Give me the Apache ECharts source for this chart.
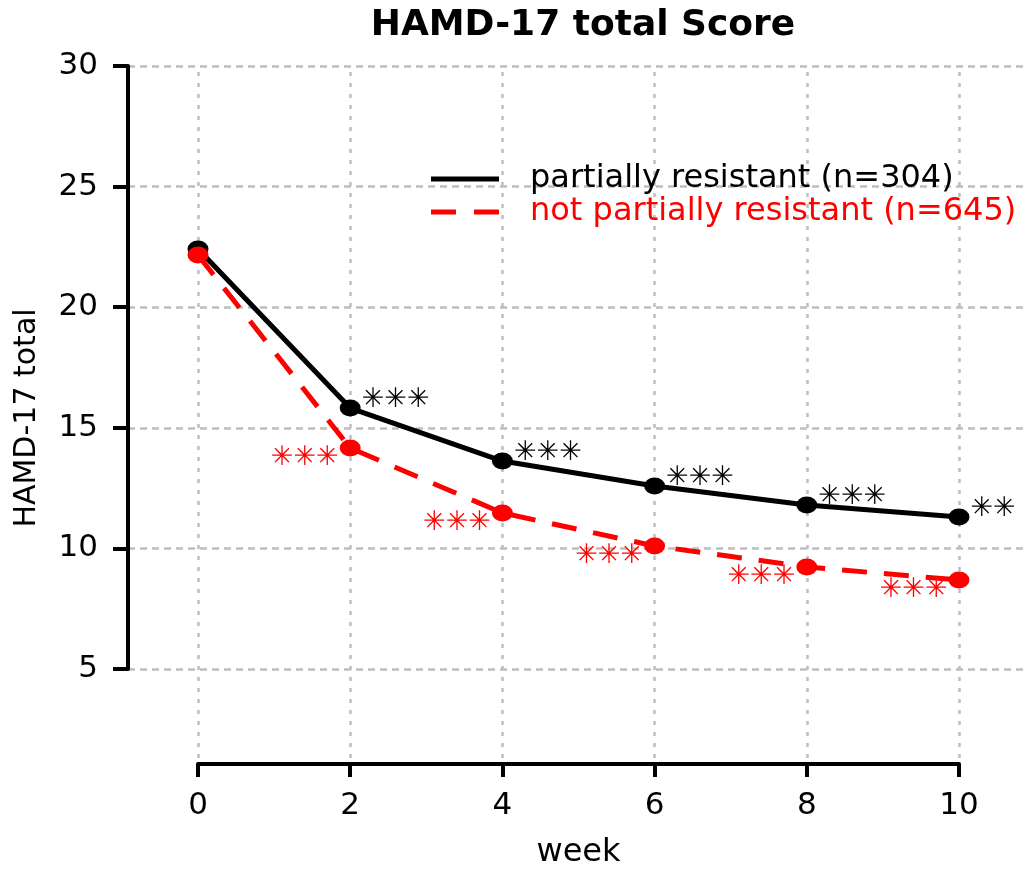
<!DOCTYPE html>
<html>
<head>
<meta charset="utf-8">
<script src="https://cdn.jsdelivr.net/npm/echarts@6/dist/echarts.min.js"></script>
<style>html,body{margin:0;padding:0;background:#fff}#c{width:1032px;height:874px}</style>
</head>
<body>
<div id="c"></div>
<script>
var weeks = [0, 2, 4, 6, 8, 10];
var partiallyResistant = [22.41, 15.82, 13.62, 12.59, 11.80, 11.30];
var notPartiallyResistant = [22.16, 14.16, 11.47, 10.10, 9.23, 8.69];
var sigPartial = ['', '✳✳✳', '✳✳✳', '✳✳✳', '✳✳✳', '✳✳'];
var sigNotPartial = ['', '✳✳✳', '✳✳✳', '✳✳✳', '✳✳✳', '✳✳✳'];
var yTicks = [5, 10, 15, 20, 25, 30];
var xTicks = [0, 2, 4, 6, 8, 10];
var nameA = 'partially resistant (n=304)';
var nameB = 'not partially resistant (n=645)';

function pairs(xs, ys) { return xs.map(function (x, i) { return [x, ys[i]]; }); }

var FONT = 'DejaVu Sans';
var chart = echarts.init(document.getElementById('c'), null, { renderer: 'canvas' });
var option = {
  backgroundColor: '#fff',
  animation: false,
  title: {
    text: 'HAMD-17 total Score',
    left: 578, top: 3, textAlign: 'center',
    textStyle: { fontFamily: FONT, fontWeight: 'bold', fontSize: 36, color: '#000' }
  },
  legend: {
    orient: 'vertical', left: 426, top: 158,
    itemWidth: 68, itemHeight: 5, itemGap: 1,
    data: [
      { name: nameA, icon: 'rect', textStyle: { color: '#000' } },
      { name: nameB, icon: 'path://M0,0h25v5h-25z M43,0h25v5h-25z', textStyle: { color: '#ff0000' } }
    ],
    textStyle: { fontFamily: FONT, fontSize: 32, lineHeight: 32, padding: [0, 0, 0, 26] }
  },
  grid: [
    { left: 198, width: 761, top: 66, height: 603 },
    { left: 128, width: 897, top: 66, height: 603 },
    { left: 198, width: 761, top: 72, height: 698 }
  ],
  xAxis: [
    { gridIndex: 0, type: 'value', min: 0, max: 10, show: false },
    { gridIndex: 1, type: 'value', min: 0, max: 10, show: false },
    {
      gridIndex: 2, type: 'value', min: 0, max: 10, interval: 2, position: 'bottom',
      axisLine: { show: true, lineStyle: { color: '#000', width: 4 } },
      axisTick: { show: true, length: 13, lineStyle: { color: '#000', width: 4 } },
      axisLabel: { fontFamily: FONT, fontSize: 31, color: '#000', margin: 26,
        formatter: function (v) { return xTicks.indexOf(v) >= 0 ? String(v) : ''; } },
      splitLine: { show: true, lineStyle: { color: '#bebebe', width: 2.5, type: [4, 7] } },
      name: 'week', nameLocation: 'middle', nameGap: 73,
      nameTextStyle: { fontFamily: FONT, fontSize: 32, color: '#000' }
    }
  ],
  yAxis: [
    { gridIndex: 0, type: 'value', min: 5, max: 30, show: false },
    {
      gridIndex: 1, type: 'value', min: 5, max: 30, interval: 5, position: 'left',
      axisLine: { show: true, lineStyle: { color: '#000', width: 4 } },
      axisTick: { show: true, length: 15, lineStyle: { color: '#000', width: 4 } },
      axisLabel: { fontFamily: FONT, fontSize: 31, color: '#000', margin: 30,
        formatter: function (v) { return yTicks.indexOf(v) >= 0 ? String(v) : ''; } },
      splitLine: { show: true, lineStyle: { color: '#bebebe', width: 2.5, type: [7, 5] } }
    },
    {
      gridIndex: 2, type: 'value', min: 0, max: 1, position: 'left',
      axisLine: { show: false }, axisTick: { show: false }, axisLabel: { show: false },
      splitLine: { show: false },
      name: 'HAMD-17 total', nameLocation: 'middle', nameGap: 156, nameRotate: 90,
      nameTextStyle: { fontFamily: FONT, fontSize: 30, color: '#000' }
    }
  ],
  series: [
    {
      name: nameA, type: 'line', xAxisIndex: 0, yAxisIndex: 0,
      data: pairs(weeks, partiallyResistant), symbol: 'none',
      lineStyle: { color: '#000', width: 5 }, itemStyle: { color: '#000' }, z: 3
    },
    {
      name: nameB, type: 'line', xAxisIndex: 0, yAxisIndex: 0,
      data: pairs(weeks, notPartiallyResistant), symbol: 'none',
      lineStyle: { color: '#ff0000', width: 5, type: [25, 17] }, itemStyle: { color: '#ff0000' }, z: 3
    },
    {
      name: 'ptsA', type: 'scatter', xAxisIndex: 0, yAxisIndex: 0,
      data: pairs(weeks, partiallyResistant), symbol: 'circle', symbolSize: [21, 17],
      itemStyle: { color: '#000', opacity: 1 }, z: 4,
      label: { show: true, position: 'right', distance: 1, offset: [0, -8],
        fontFamily: FONT, fontSize: 27, color: '#000',
        formatter: function (p) { return sigPartial[p.dataIndex]; } }
    },
    {
      name: 'ptsB', type: 'scatter', xAxisIndex: 0, yAxisIndex: 0,
      data: pairs(weeks, notPartiallyResistant), symbol: 'circle', symbolSize: [21, 17],
      itemStyle: { color: '#ff0000', opacity: 1 }, z: 5,
      label: { show: true, position: 'left', distance: 1, offset: [0, 10],
        fontFamily: FONT, fontSize: 27, color: '#ff0000',
        formatter: function (p) { return sigNotPartial[p.dataIndex]; } }
    }
  ]
};
chart.setOption(option);
</script>
</body>
</html>
